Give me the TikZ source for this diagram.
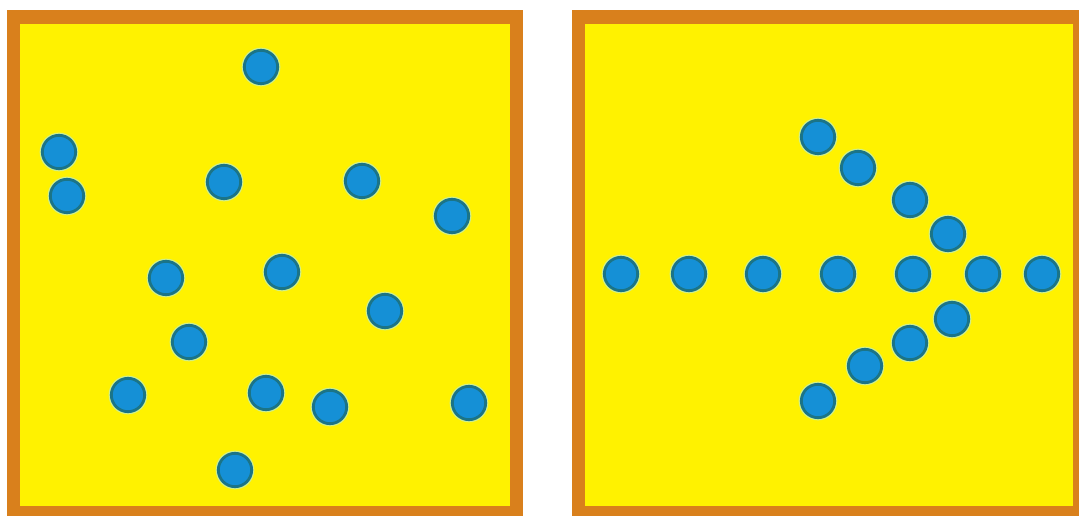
\documentclass[tikz,border=0pt]{standalone}
\definecolor{frameor}{HTML}{D9801C}
\definecolor{fieldyel}{HTML}{FFF200}
\definecolor{dotblue}{HTML}{1590D6}
\definecolor{dotring}{HTML}{1B7487}
\definecolor{dothalo}{HTML}{D0F08A}
\tikzset{
  dotnode/.style={circle, fill=dotblue, draw=dotring, line width=2.4pt, minimum size=1.0cm, inner sep=0pt,
    preaction={draw=dothalo, line width=4.6pt}},
}
\begin{document}
\begin{tikzpicture}[x=0.03cm, y=-0.03cm]
\useasboundingbox (0,0) rectangle (1079,516);
\fill[white] (0,0) rectangle (1079,516);
\begin{scope}
\clip (0,0) rectangle (1079,516);
% left panel
\fill[frameor] (7,10) rectangle (523,520);
\fill[fieldyel] (20,24) rectangle (510,506);
% right panel
\fill[frameor] (572,10) rectangle (1085,520);
\fill[fieldyel] (585,24) rectangle (1073,506);
\end{scope}
% left dots
\foreach \n/\x/\y in {a1/261/67, a2/59/152, a3/67/196, a4/224/182, a5/362/181, a6/452/216,
  a7/166/278, a8/282/272, a9/385/311, a10/189/342, a11/128/395, a12/266/393, a13/330/407,
  a14/469/403, a15/235/470}
  \node[dotnode] (\n) at (\x,\y) {};
% right dots (arrow)
\foreach \n/\x/\y in {b1/818/137, b2/858/168, b3/910/200, b4/948/234,
  b5/621/274, b6/689/274, b7/763/274, b8/838/274, b9/913/274, b10/983/274, b11/1042/274,
  b12/952/319, b13/910/343, b14/865/366, b15/818/401}
  \node[dotnode] (\n) at (\x,\y) {};
\end{tikzpicture}
\end{document}
